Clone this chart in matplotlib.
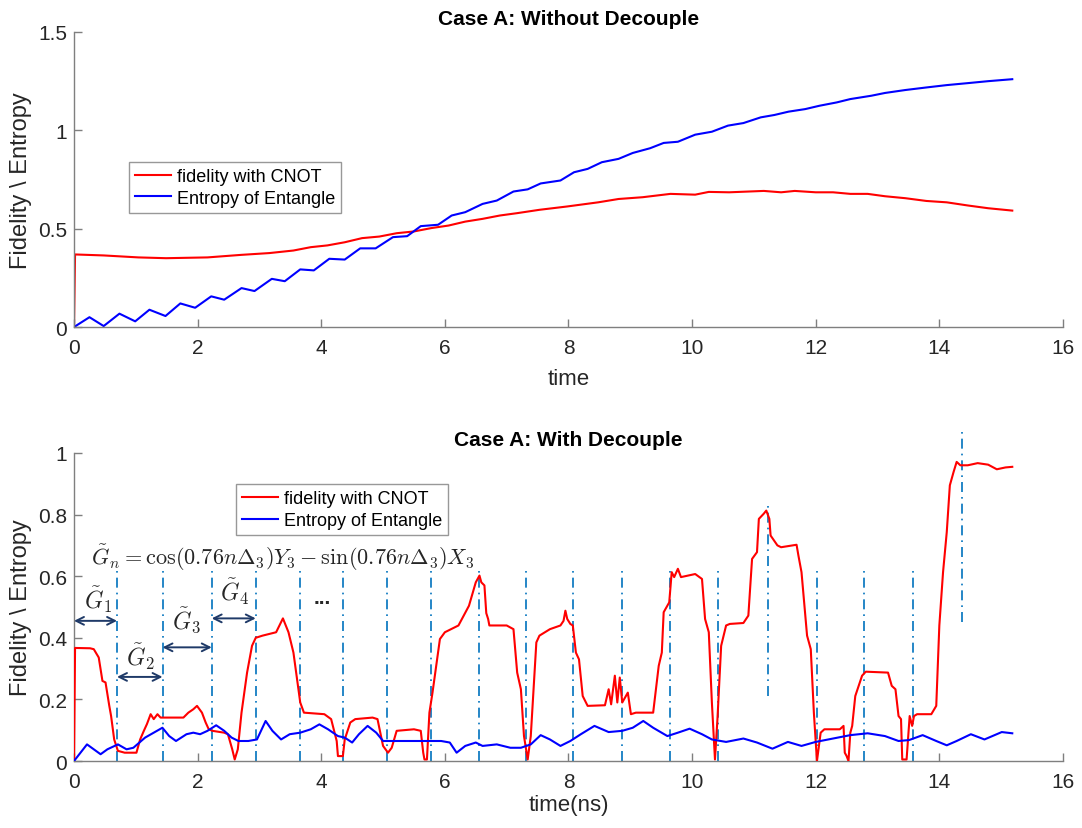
import matplotlib.pyplot as plt

plt.rcParams['font.family'] = ['Liberation Sans', 'DejaVu Sans']
plt.rcParams['mathtext.fontset'] = 'cm'

# ---- Case A: without decouple ----
t_fid_a = [0, 0.017, 0.48, 1.04, 1.49, 2.16, 2.71, 3.16, 3.55, 3.83, 4.1, 4.38, 4.66, 4.94,
           5.22, 5.5, 5.78, 6.06, 6.33, 6.61, 6.89, 7.17, 7.53, 7.98, 8.48, 8.81, 9.2, 9.65,
           10.05, 10.27, 10.6, 11.16, 11.44, 11.66, 12.0, 12.28, 12.56, 12.84, 13.12, 13.45,
           13.79, 14.12, 14.46, 14.79, 15.18]
fid_a = [0, 0.369, 0.364, 0.354, 0.35, 0.354, 0.367, 0.376, 0.389, 0.406, 0.415, 0.431, 0.452,
         0.46, 0.477, 0.486, 0.503, 0.516, 0.536, 0.55, 0.567, 0.579, 0.596, 0.613, 0.634, 0.651,
         0.66, 0.677, 0.673, 0.687, 0.685, 0.692, 0.685, 0.692, 0.685, 0.685, 0.677, 0.677, 0.665,
         0.655, 0.641, 0.634, 0.618, 0.604, 0.592]

t_ent_a = [0, 0.25, 0.48, 0.735, 0.99, 1.22, 1.48, 1.72, 1.96, 2.22, 2.43, 2.71, 2.92, 3.2, 3.41,
           3.66, 3.88, 4.13, 4.38, 4.63, 4.88, 5.16, 5.39, 5.61, 5.89, 6.11, 6.33, 6.61, 6.84,
           7.11, 7.34, 7.55, 7.87, 8.09, 8.31, 8.54, 8.81, 9.04, 9.32, 9.54, 9.77, 10.05, 10.32,
           10.58, 10.83, 11.11, 11.33, 11.56, 11.83, 12.06, 12.34, 12.56, 12.9, 13.12, 13.45,
           13.79, 14.12, 14.46, 14.79, 15.18]
ent_a = [0, 0.05, 0.005, 0.068, 0.029, 0.088, 0.056, 0.12, 0.098, 0.156, 0.139, 0.198, 0.183,
         0.245, 0.233, 0.293, 0.288, 0.347, 0.343, 0.40, 0.40, 0.457, 0.462, 0.513, 0.52, 0.567,
         0.584, 0.626, 0.643, 0.689, 0.70, 0.730, 0.745, 0.787, 0.804, 0.838, 0.855, 0.885, 0.909,
         0.936, 0.942, 0.978, 0.993, 1.024, 1.037, 1.066, 1.078, 1.095, 1.108, 1.125, 1.142,
         1.159, 1.176, 1.19, 1.205, 1.218, 1.23, 1.24, 1.25, 1.26]

# ---- Case A: with decouple ----
t_fid_b = [0, 0.017, 0.26, 0.32, 0.40, 0.46, 0.51, 0.57, 0.60, 0.65, 0.71, 0.82, 1.01, 1.07,
           1.13, 1.18, 1.24, 1.29, 1.35, 1.40, 1.44, 1.77, 1.85, 1.93, 1.99, 2.03, 2.07, 2.13,
           2.18, 2.24, 2.43, 2.49, 2.56, 2.60, 2.65, 2.71, 2.80, 2.88, 2.94, 3.05, 3.27, 3.38,
           3.47, 3.55, 3.66, 3.72, 4.05, 4.16, 4.25, 4.27, 4.35, 4.38, 4.47, 4.55, 4.83, 4.91,
           5.0, 5.08, 5.14, 5.22, 5.5, 5.61, 5.65, 5.67, 5.71, 5.75, 5.80, 5.86, 5.92, 6.0, 6.22,
           6.39, 6.5, 6.56, 6.59, 6.64, 6.67, 6.70, 6.72, 7.0, 7.11, 7.17, 7.23, 7.28, 7.34, 7.39,
           7.48, 7.53, 7.70, 7.87, 7.92, 7.95, 7.98, 8.03, 8.07, 8.12, 8.17, 8.23, 8.31, 8.59,
           8.65, 8.69, 8.75, 8.79, 8.83, 8.87, 8.96, 9.01, 9.09, 9.37, 9.46, 9.51, 9.54, 9.63,
           9.67, 9.71, 9.77, 9.82, 10.05, 10.16, 10.21, 10.27, 10.32, 10.37, 10.41, 10.47, 10.55,
           10.61, 10.83, 10.91, 10.97, 11.05, 11.08, 11.16, 11.20, 11.25, 11.27, 11.38, 11.44,
           11.69, 11.72, 11.77, 11.86, 11.92, 11.97, 12.02, 12.08, 12.14, 12.39, 12.45, 12.47,
           12.5, 12.53, 12.56, 12.59, 12.64, 12.75, 12.81, 13.17, 13.23, 13.29, 13.34, 13.38,
           13.40, 13.47, 13.52, 13.56, 13.59, 13.64, 13.87, 13.95, 14.0, 14.06, 14.12, 14.17,
           14.23, 14.28, 14.34, 14.46, 14.62, 14.79, 14.93, 15.07, 15.18]
fid_b = [0, 0.367, 0.366, 0.363, 0.336, 0.26, 0.255, 0.18, 0.146, 0.07, 0.033, 0.027, 0.027,
         0.07, 0.098, 0.12, 0.152, 0.136, 0.152, 0.141, 0.141, 0.141, 0.157, 0.168, 0.179, 0.168,
         0.157, 0.125, 0.103, 0.098, 0.092, 0.087, 0.038, 0.005, 0.038, 0.157, 0.287, 0.374,
         0.40, 0.407, 0.418, 0.463, 0.418, 0.352, 0.19, 0.157, 0.152, 0.136, 0.065, 0.016, 0.016,
         0.07, 0.125, 0.136, 0.141, 0.136, 0.049, 0.027, 0.043, 0.098, 0.103, 0.098, 0.027,
         0.005, 0.005, 0.157, 0.222, 0.309, 0.396, 0.418, 0.44, 0.504, 0.58, 0.602, 0.58, 0.57,
         0.48, 0.461, 0.44, 0.44, 0.428, 0.287, 0.233, 0.081, 0.005, 0.081, 0.385, 0.407, 0.428,
         0.44, 0.455, 0.488, 0.461, 0.445, 0.44, 0.352, 0.33, 0.211, 0.179, 0.181, 0.233, 0.184,
         0.277, 0.19, 0.271, 0.19, 0.222, 0.152, 0.157, 0.157, 0.309, 0.352, 0.483, 0.515, 0.613,
         0.597, 0.624, 0.597, 0.607, 0.591, 0.461, 0.418, 0.19, 0.005, 0.136, 0.374, 0.44, 0.445,
         0.448, 0.472, 0.656, 0.678, 0.786, 0.803, 0.813, 0.786, 0.732, 0.70, 0.694, 0.702, 0.667,
         0.613, 0.407, 0.363, 0.157, 0.0, 0.092, 0.103, 0.103, 0.114, 0.027, 0.016, 0.0, 0.092,
         0.114, 0.211, 0.277, 0.29, 0.287, 0.244, 0.233, 0.146, 0.136, 0.005, 0.005, 0.146, 0.114,
         0.146, 0.152, 0.152, 0.179, 0.44, 0.613, 0.743, 0.895, 0.938, 0.971, 0.96, 0.96, 0.967,
         0.962, 0.947, 0.953, 0.955]

t_ent_b = [0, 0.21, 0.43, 0.54, 0.71, 0.85, 0.96, 1.15, 1.43, 1.54, 1.65, 1.82, 1.93, 2.04, 2.16,
           2.30, 2.43, 2.55, 2.66, 2.82, 2.96, 3.10, 3.21, 3.35, 3.49, 3.66, 3.83, 3.97, 4.11,
           4.27, 4.38, 4.50, 4.61, 4.75, 4.89, 5.0, 5.22, 5.50, 5.78, 5.94, 6.08, 6.19, 6.33,
           6.50, 6.61, 6.84, 7.06, 7.23, 7.39, 7.55, 7.70, 7.87, 8.03, 8.20, 8.42, 8.65, 8.87,
           9.04, 9.21, 9.37, 9.60, 9.77, 9.96, 10.16, 10.32, 10.55, 10.83, 11.05, 11.30, 11.55,
           11.77, 12.0, 12.28, 12.56, 12.84, 13.12, 13.34, 13.51, 13.73, 13.95, 14.12, 14.28,
           14.51, 14.73, 15.01, 15.18]
ent_b = [0, 0.054, 0.022, 0.038, 0.054, 0.038, 0.043, 0.076, 0.108, 0.081, 0.065, 0.087, 0.092,
         0.087, 0.098, 0.116, 0.098, 0.076, 0.065, 0.065, 0.07, 0.13, 0.098, 0.07, 0.087, 0.092,
         0.103, 0.119, 0.103, 0.081, 0.076, 0.06, 0.087, 0.114, 0.092, 0.065, 0.065, 0.065, 0.065,
         0.065, 0.06, 0.027, 0.049, 0.06, 0.049, 0.054, 0.043, 0.043, 0.054, 0.084, 0.07, 0.049,
         0.065, 0.087, 0.114, 0.094, 0.098, 0.108, 0.13, 0.108, 0.081, 0.092, 0.105, 0.087, 0.07,
         0.062, 0.073, 0.06, 0.04, 0.062, 0.049, 0.062, 0.073, 0.084, 0.09, 0.081, 0.065, 0.068,
         0.084, 0.065, 0.051, 0.065, 0.087, 0.07, 0.094, 0.09]

# decoupling pulse boundaries (dash-dot markers)
pulse_t = [0.696, 1.432, 2.228, 2.94, 3.65, 4.35, 5.06, 5.77, 6.55, 7.32, 8.07, 8.86, 9.65,
           10.42, 11.22, 12.02, 12.78, 13.58, 14.36]
pulse_lo = [0] * 14 + [0.21, 0, 0, 0, 0.45]
pulse_hi = [0.634] * 14 + [0.84, 0.634, 0.634, 0.634, 1.08]

gray = '#7f7f7f'
txt = '#262626'


def style(ax, ymax, yticks, ylabels):
    ax.set_xlim(0, 16)
    ax.set_ylim(0, ymax)
    ax.set_xticks(range(0, 17, 2))
    ax.set_yticks(yticks)
    ax.set_yticklabels(ylabels)
    for s in ['top', 'right']:
        ax.spines[s].set_visible(False)
    for s in ['left', 'bottom']:
        ax.spines[s].set_color(gray)
        ax.spines[s].set_linewidth(1.0)
    ax.tick_params(direction='in', length=6, width=1.0, color=gray,
                   labelcolor=txt, labelsize=15)
    ax.tick_params(axis='x', pad=8)
    ax.tick_params(axis='y', pad=5)


fig = plt.figure(figsize=(10.82, 8.29), dpi=100)

ax1 = fig.add_axes([0.0684, 0.6043, 0.914, 0.3559])
ax1.plot(t_fid_a, fid_a, color='red', lw=1.5, label='fidelity with CNOT')
ax1.plot(t_ent_a, ent_a, color='blue', lw=1.5, label='Entropy of Entangle')
style(ax1, 1.5, [0, 0.5, 1, 1.5], ['0', '0.5', '1', '1.5'])
ax1.set_title('Case A: Without Decouple', fontsize=15, fontweight='bold', pad=6)
ax1.set_xlabel('time', fontsize=16, color=txt, labelpad=8)
ax1.set_ylabel('Fidelity \\ Entropy', fontsize=17, color=txt, labelpad=4)
leg = ax1.legend(loc='upper left', bbox_to_anchor=(0.0556, 0.56), fontsize=13,
                 frameon=True, fancybox=False, edgecolor=gray, handlelength=2.0,
                 handletextpad=0.3, borderpad=0.35, labelspacing=0.25, borderaxespad=0)
leg.get_frame().set_linewidth(1.0)

ax2 = fig.add_axes([0.0684, 0.0808, 0.914, 0.3716])
for x, lo, hi in zip(pulse_t, pulse_lo, pulse_hi):
    ax2.plot([x, x], [lo, hi], color='#0072BD', lw=1.2, ls=(0, (6, 3, 1, 3)),
             clip_on=False, zorder=1)
ax2.plot(t_fid_b, fid_b, color='red', lw=1.5, label='fidelity with CNOT', zorder=3)
ax2.plot(t_ent_b, ent_b, color='blue', lw=1.5, label='Entropy of Entangle', zorder=3)
style(ax2, 1.0, [0, 0.2, 0.4, 0.6, 0.8, 1], ['0', '0.2', '0.4', '0.6', '0.8', '1'])
ax2.set_title('Case A: With Decouple', fontsize=15, fontweight='bold', pad=6)
ax2.set_xlabel('time(ns)', fontsize=16, color=txt, labelpad=2)
ax2.set_ylabel('Fidelity \\ Entropy', fontsize=17, color=txt, labelpad=4)
leg2 = ax2.legend(loc='upper left', bbox_to_anchor=(0.1635, 0.899), fontsize=13,
                  frameon=True, fancybox=False, edgecolor=gray, handlelength=2.0,
                  handletextpad=0.3, borderpad=0.35, labelspacing=0.25, borderaxespad=0)
leg2.get_frame().set_linewidth(1.0)

# annotations
navy = '#1f3a68'
ax2.text(0.27, 0.662, r'$\tilde{G}_n=\cos(0.76n\Delta_3)Y_3-\sin(0.76n\Delta_3)X_3$',
         fontsize=16, va='center', ha='left', color=txt)
arrows = [(0, 0.696, 0.455), (0.696, 1.432, 0.273), (1.432, 2.228, 0.369), (2.228, 2.94, 0.463)]
for x0, x1, y in arrows:
    ax2.annotate('', xy=(x0, y), xytext=(x1, y),
                 arrowprops=dict(arrowstyle='<->', color=navy, lw=1.4,
                                 shrinkA=0, shrinkB=0, mutation_scale=14))
g_labels = [(0.40, 0.528, r'$\tilde{G}_1$'), (1.07, 0.342, r'$\tilde{G}_2$'),
            (1.82, 0.457, r'$\tilde{G}_3$'), (2.60, 0.552, r'$\tilde{G}_4$')]
for x, y, s in g_labels:
    ax2.text(x, y, s, fontsize=17, ha='center', va='center', color=txt)
ax2.text(4.02, 0.53, '...', fontsize=15, fontweight='bold', ha='center', va='center', color=txt)

fig.savefig('out.png', dpi=100)
